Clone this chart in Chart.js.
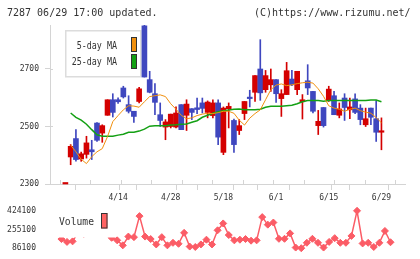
<!DOCTYPE html>
<html><head><meta charset="utf-8">
<script src="https://cdn.jsdelivr.net/npm/chart.js@4"></script>
<style>
html,body{margin:0;padding:0;background:#fff;}
#wrap{position:relative;width:420px;height:259px;overflow:hidden;}
.hdr{position:absolute;top:7px;font-family:'DejaVu Sans Mono',monospace;font-size:10px;line-height:12px;color:#333;white-space:pre;}
canvas{position:absolute;left:0;}
</style></head><body>
<div id="wrap">
<canvas id="c1" width="420" height="205" style="top:0"></canvas>
<canvas id="c2" width="420" height="59" style="top:200px"></canvas>
<div class="hdr" style="left:7px">7287 06/29 17:00 updated.</div>
<div class="hdr" style="left:254px">(C)https://www.rizumu.net/</div>
</div>
<script>
const dates = ['3/31','4/1','4/2','4/5','4/6','4/7','4/8','4/9','4/12','4/13','4/14','4/15','4/16','4/19','4/20','4/21','4/22','4/23','4/26','4/27','4/28','4/30','5/6','5/7','5/10','5/11','5/12','5/13','5/14','5/17','5/18','5/19','5/20','5/21','5/24','5/25','5/26','5/27','5/28','5/31','6/1','6/2','6/3','6/4','6/7','6/8','6/9','6/10','6/11','6/14','6/15','6/16','6/17','6/18','6/21','6/22','6/23','6/24','6/25','6/28','6/29'];
const tickLabels = ['4/14','4/28','5/18','6/1','6/15','6/29'];
const priceTicks = [2300, 2500, 2700];
const volTicks = [86100, 255100, 424100];

const openP  = [2297,2394,2458,2387,2403,2419,2512,2477,2539,2593,2593,2634,2576,2553,2587,2850,2663,2614,2541,2498,2500,2498,2576,2539,2562,2565,2582,2549,2538,2582,2410,2562,2521,2486,2545,2600,2619,2700,2628,2645,2663,2597,2611,2665,2628,2586,2659,2622,2503,2566,2590,2607,2539,2599,2558,2596,2564,2506,2564,2527,2480];
const highP  = [2301,2437,2489,2411,2466,2452,2514,2506,2593,2614,2600,2640,2607,2553,2636,2853,2692,2649,2582,2524,2543,2568,2576,2593,2562,2599,2599,2589,2593,2593,2568,2582,2526,2524,2587,2626,2677,2802,2695,2700,2663,2628,2723,2695,2692,2611,2715,2622,2556,2566,2640,2622,2582,2614,2599,2614,2576,2564,2564,2590,2530];
const lowP   = [2297,2367,2379,2379,2390,2385,2448,2445,2539,2533,2580,2599,2547,2514,2582,2672,2617,2541,2500,2454,2495,2495,2489,2486,2524,2545,2547,2530,2530,2437,2402,2495,2410,2472,2524,2568,2587,2591,2619,2622,2584,2535,2611,2642,2611,2526,2611,2547,2472,2498,2587,2541,2530,2521,2527,2545,2506,2500,2506,2448,2419];
const closeP = [2301,2431,2385,2405,2443,2412,2452,2503,2593,2549,2586,2603,2553,2535,2631,2672,2619,2584,2521,2516,2543,2547,2489,2578,2549,2559,2563,2585,2582,2463,2564,2570,2437,2503,2587,2597,2677,2617,2677,2663,2614,2614,2694,2645,2692,2593,2634,2553,2518,2503,2630,2541,2561,2566,2568,2549,2524,2527,2532,2480,2485];
const ma5  = [null,2435,2412,2386,2371,2395,2412,2423,2465,2517,2538,2558,2572,2571,2567,2586,2604,2607,2610,2604,2579,2560,2539,2527,2530,2538,2543,2546,2545,2548,2553,2553,2546,2522,2505,2529,2545,2558,2593,2628,2644,2648,2642,2645,2649,2652,2654,2651,2631,2605,2572,2564,2560,2553,2560,2564,2555,2550,2546,2531,2513];
const ma25 = [null,2547,2532,2522,2508,2489,2471,2466,2466,2466,2470,2473,2480,2480,2484,2491,2501,2503,2503,2503,2505,2506,2508,2509,2515,2520,2532,2539,2546,2551,2555,2557,2560,2561,2558,2558,2558,2560,2567,2570,2570,2570,2572,2574,2579,2586,2590,2590,2590,2588,2590,2590,2590,2590,2590,2590,2590,2590,2592,2592,2586];
const volume = [null,169000,143000,148000,230000,215000,260000,240000,290000,250000,180000,157000,112000,191000,186000,376000,191000,169000,120000,186000,112000,135000,126000,225000,101000,97000,120000,163000,120000,248000,310000,205000,157000,163000,169000,154000,157000,367000,299000,318000,171000,171000,220000,92000,86100,135000,171000,135000,92000,143000,177000,135000,135000,197000,424100,129000,135000,97000,135000,242000,140000];

const RED = '#d40000', BLUE = '#3f47bf', ORANGE = '#f0900f', GREEN = '#14a014', VOLC = '#fb5c66';
const AXIS = '#d4d4d4', TXT = '#333';
const FONT = "'DejaVu Sans Mono', monospace";
const X_MIN = -1.05, X_MAX = 62.6;

const candleColor = c => (closeP[c.dataIndex] >= openP[c.dataIndex] ? RED : BLUE);
const pts = arr => arr.map((v, i) => ({x: i, y: v})).filter(p => p.y !== null);

const maLegend = {
  id: 'maLegend',
  beforeDatasetsDraw(chart) {
    const ctx = chart.ctx;
    const {left, bottom} = chart.chartArea;
    ctx.save();
    // inward part of the tick marks
    ctx.strokeStyle = AXIS; ctx.lineWidth = 1;
    ctx.beginPath();
    chart.scales.x.ticks.forEach(t => {
      if (!t.g) return;
      const px = Math.round(chart.scales.x.getPixelForValue(t.value)) + 0.5;
      ctx.moveTo(px, bottom - 4); ctx.lineTo(px, bottom);
    });
    chart.scales.y.ticks.forEach(t => {
      const py = Math.round(chart.scales.y.getPixelForValue(t.value)) + 0.5;
      ctx.moveTo(left, py); ctx.lineTo(left + 3, py);
    });
    ctx.stroke();
    ctx.fillStyle = '#fff';
    ctx.fillRect(65, 30, 76, 47);
    ctx.strokeStyle = '#dcdcdc';
    ctx.lineWidth = 1.5;
    ctx.strokeRect(65.75, 30.75, 75, 46);
    ctx.fillStyle = TXT;
    ctx.font = "11px " + FONT;
    ctx.textBaseline = 'middle';
    ctx.textAlign = 'right';
    [['5-day MA', 46], ['25-day MA', 62.5]].forEach(([t, y]) => {
      ctx.save(); ctx.translate(117, y); ctx.scale(0.76, 1); ctx.fillText(t, 0, 0); ctx.restore();
    });
    ctx.lineWidth = 1; ctx.strokeStyle = '#333';
    ctx.fillStyle = ORANGE; ctx.fillRect(131, 37, 6, 15); ctx.strokeRect(131.5, 37.5, 5, 14);
    ctx.fillStyle = GREEN; ctx.fillRect(131, 54, 6, 15); ctx.strokeRect(131.5, 54.5, 5, 14);
    ctx.restore();
  }
};

new Chart(document.getElementById('c1'), {
  type: 'bar',
  data: {
    datasets: [
      {type: 'line', data: pts(ma5), borderColor: ORANGE, borderWidth: 1, pointRadius: 0, tension: 0},
      {type: 'line', data: pts(ma25), borderColor: GREEN, borderWidth: 1.5, pointRadius: 0, tension: 0},
      {type: 'bar', data: openP.map((o, i) => ({x: i, y: [o, closeP[i]]})), backgroundColor: candleColor, barThickness: 5, grouped: false, minBarLength: 1.5, clip: false},
      {type: 'bar', data: lowP.map((l, i) => ({x: i, y: [l, highP[i]]})), backgroundColor: candleColor, barThickness: 1, grouped: false}
    ]
  },
  options: {
    responsive: false, animation: false,
    layout: {padding: {left: 0, right: 15, top: 25, bottom: 0}},
    plugins: {legend: {display: false}, tooltip: {enabled: false}},
    scales: {
      x: {
        type: 'linear', min: X_MIN, max: X_MAX,
        afterBuildTicks: s => {
          const step = (X_MAX - X_MIN) / 11;
          const t = [];
          for (let k = 0; k <= 11; k++) t.push({value: X_MIN + k * step, lbl: '', g: true});
          tickLabels.forEach(l => t.push({value: dates.indexOf(l), lbl: l, g: false}));
          t.sort((a, b) => a.value - b.value);
          s.ticks = t;
        },
        afterFit: s => { s.height = 21; },
        grid: {drawOnChartArea: false, drawTicks: true, tickLength: 6, tickWidth: 1,
               tickColor: c => (c.tick && c.tick.g) ? AXIS : 'rgba(0,0,0,0)'},
        border: {color: AXIS, width: 1},
        ticks: {autoSkip: false, maxRotation: 0, padding: 3, color: TXT, font: {family: FONT, size: 8},
                callback: (v, i, t) => t[i].lbl}
      },
      y: {
        min: 2300, max: 2853,
        afterBuildTicks: s => { s.ticks = priceTicks.map(v => ({value: v})); },
        afterFit: s => { s.width = 50; },
        grid: {drawOnChartArea: false, tickLength: 5, tickColor: AXIS},
        border: {color: AXIS, width: 1},
        ticks: {padding: 6, color: TXT, font: {family: FONT, size: 8}, callback: v => String(v)}
      }
    }
  },
  plugins: [maLegend]
});

const volLegend = {
  id: 'volLegend',
  afterDatasetsDraw(chart) {
    const ctx = chart.ctx;
    ctx.save();
    ctx.fillStyle = '#fff';
    ctx.fillRect(54, 4, 61.5, 33.5);
    ctx.fillStyle = TXT;
    ctx.font = "11px " + FONT;
    ctx.textBaseline = 'middle';
    ctx.textAlign = 'left';
    ctx.translate(59, 22.5); ctx.scale(0.88, 1); ctx.fillText('Volume', 0, 0);
    ctx.restore();
    ctx.save();
    ctx.fillStyle = '#ff6262'; ctx.fillRect(101, 13, 6.5, 15.5);
    ctx.strokeStyle = '#333'; ctx.lineWidth = 1; ctx.strokeRect(101.5, 13.5, 5.5, 14.5);
    ctx.restore();
  }
};

new Chart(document.getElementById('c2'), {
  type: 'line',
  data: {
    datasets: [{
      data: pts(volume), borderColor: VOLC, borderWidth: 1.5, tension: 0,
      pointStyle: 'rectRot', pointRadius: 3.5, pointBackgroundColor: VOLC, pointBorderColor: VOLC, pointBorderWidth: 1,
      clip: false
    }]
  },
  options: {
    responsive: false, animation: false,
    layout: {padding: {left: 0, right: 15, top: 9, bottom: 10}},
    plugins: {legend: {display: false}, tooltip: {enabled: false}},
    scales: {
      x: {type: 'linear', min: X_MIN, max: X_MAX, display: false},
      y: {
        min: 86100, max: 424100,
        afterBuildTicks: s => { s.ticks = volTicks.map(v => ({value: v})); },
        afterFit: s => { s.width = 50; },
        grid: {display: false}, border: {display: false},
        ticks: {padding: 6, color: TXT, font: {family: FONT, size: 8}, callback: v => String(v)}
      }
    }
  },
  plugins: [volLegend]
});
</script>
</body></html>
